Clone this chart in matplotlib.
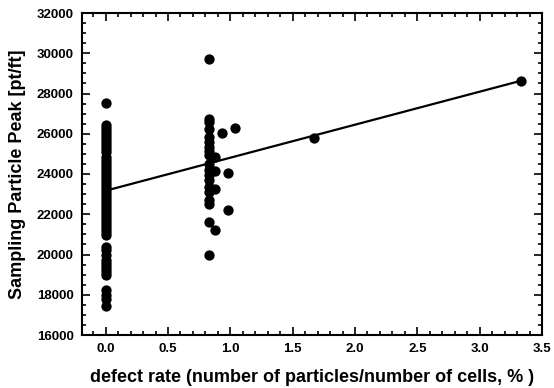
import matplotlib
matplotlib.use('Agg')
import matplotlib.pyplot as plt
from matplotlib.ticker import MultipleLocator
import numpy as np

plt.rcParams['font.family'] = ['Liberation Sans', 'DejaVu Sans']
plt.rcParams['font.weight'] = 'bold'

# defect rate 0 % group
peak_zero = [27550,
             26450, 26300, 26150, 26000, 25850, 25700, 25550, 25400, 25250, 25100,
             24850, 24700, 24550, 24400, 24250, 24100, 23950, 23800, 23650, 23500,
             23350, 23200, 23050, 22900, 22750, 22600, 22450, 22300, 22150, 22000,
             21850, 21700, 21550, 21400, 21250, 21100, 20950,
             20350, 20200, 20000,
             19750, 19600, 19450, 19300, 19150, 19000,
             18250, 18000, 17800, 17450]

# defect rate ~0.83 % group
peak_083 = [29700, 26750, 26600, 26250, 25850, 25600, 25350, 25150, 24950,
            24500, 24200, 23950, 23700, 23350, 23100, 22700, 22500, 21600, 20000]

# remaining points
other_rate = [0.88, 0.88, 0.88, 0.88, 0.93, 1.04, 0.98, 0.98, 1.67, 3.33]
other_peak = [24850, 24150, 23250, 21200, 26050, 26300, 24050, 22200, 25800, 28600]

# fitted line
fit_intercept = 23170
fit_slope = 1640
fit_range = [0.0, 3.33]

rate = [0.0] * len(peak_zero) + [0.83] * len(peak_083) + other_rate
peak = peak_zero + peak_083 + other_peak

fig = plt.figure(figsize=(5.54, 3.88), dpi=100)
ax = fig.add_axes([82/554, 1 - 335/388, (542-82)/554, (335-13)/388])

ax.scatter(rate, peak, s=55, color='black', zorder=3, linewidths=0)
xs = np.array(fit_range)
ax.plot(xs, fit_intercept + fit_slope * xs, color='black', lw=1.6)

ax.set_xlim(-0.19, 3.5)
ax.set_ylim(16000, 32000)
ax.xaxis.set_major_locator(MultipleLocator(0.5))
ax.xaxis.set_minor_locator(MultipleLocator(0.1))
ax.yaxis.set_major_locator(MultipleLocator(2000))
ax.yaxis.set_minor_locator(MultipleLocator(500))
ax.tick_params(which='both', direction='in', top=True, right=True, labelsize=9.5, width=1.2)
ax.tick_params(which='major', length=6, pad=6)
ax.tick_params(which='minor', length=3)
for s in ax.spines.values():
    s.set_linewidth(1.5)
ax.xaxis.set_major_formatter(plt.FuncFormatter(lambda v, p: '%.1f' % v))

ax.set_xlabel('defect rate (number of particles/number of cells, % )', fontsize=13, fontweight='bold', labelpad=10)
ax.set_ylabel('Sampling Particle Peak [pt/ft]', fontsize=13, fontweight='bold', labelpad=8)

fig.savefig('out.png', dpi=100)
